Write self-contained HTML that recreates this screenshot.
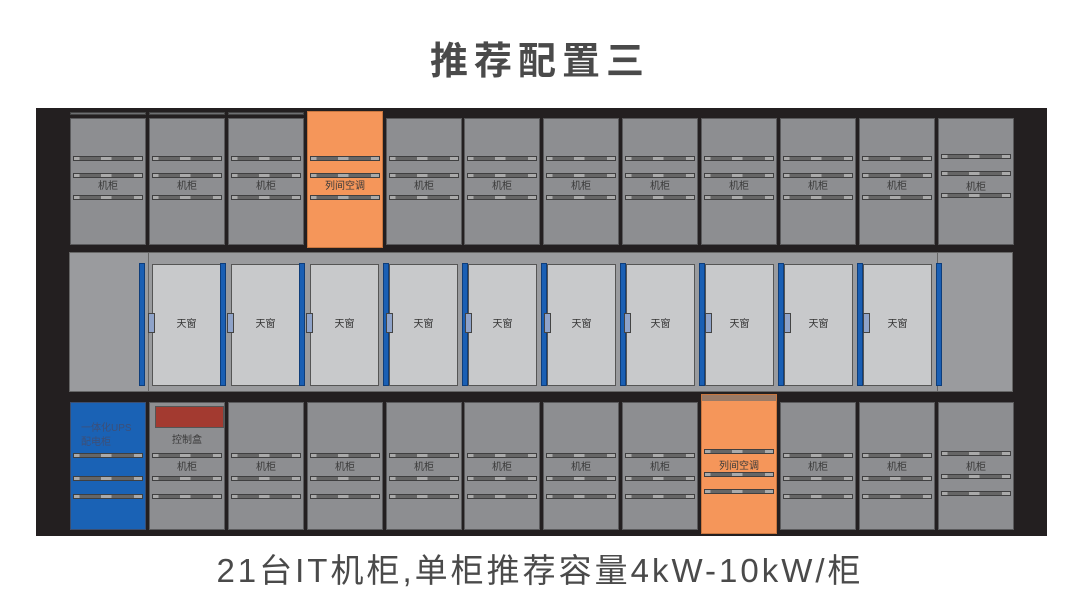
<!DOCTYPE html>
<html><head><meta charset="utf-8"><style>
body{margin:0;width:1080px;height:589px;background:#fff;position:relative;overflow:hidden;font-family:"Liberation Sans","Noto Sans CJK SC",sans-serif}
.a{position:absolute}
.t{position:absolute;left:0;width:1080px;text-align:center;color:#444}
.c{position:absolute;width:76px;background:#8d8e91;border:1px solid #5a5a5c;box-sizing:border-box}
.r{position:absolute;left:2px;right:2px;height:5px;border:1px solid #3f3f40;box-sizing:border-box;background:linear-gradient(90deg,#aaa 0 8%,#666 8% 40%,#aaa 40% 55%,#666 55% 88%,#aaa 88%)}
.l{position:absolute;left:0;right:0;text-align:center;font-size:10px;color:#3a3a3a}
.d{position:absolute;top:264px;width:69px;height:122px;background:#c8c9cb;border:1px solid #555;box-sizing:border-box}
.b{position:absolute;top:263px;width:6px;height:123px;background:#1a5fb4;border:1px solid #0e3d7a;box-sizing:border-box}
.h{position:absolute;top:313px;width:7px;height:20px;background:#8fa3c9;border:1px solid #444;box-sizing:border-box}
.s{position:absolute;height:3px;background:#6e6f72;border:1px solid #444;box-sizing:border-box}
</style></head><body>
<div class="t" style="top:30px;font-size:38px;font-weight:bold;letter-spacing:6px;color:#4a4a4a">推荐配置三</div>
<div class="t" style="top:544px;font-size:33px;letter-spacing:3px;color:#4a4a4a">21台IT机柜,单柜推荐容量4kW-10kW/柜</div>
<div class="a" style="left:36px;top:108px;width:1011px;height:428px;background:#231f20"></div>
<!-- middle row -->
<div class="a" style="left:69px;top:252px;width:944px;height:140px;background:#9a9b9e;border:1px solid #666;box-sizing:border-box"></div>
<div class="a" style="left:148px;top:252px;width:1px;height:140px;background:#666"></div>
<div class="a" style="left:937px;top:252px;width:1px;height:140px;background:#666"></div>
<div class="d" style="left:152px"></div><div class="d" style="left:231px"></div><div class="d" style="left:310px"></div><div class="d" style="left:389px"></div><div class="d" style="left:468px"></div><div class="d" style="left:547px"></div><div class="d" style="left:626px"></div><div class="d" style="left:705px"></div><div class="d" style="left:784px"></div><div class="d" style="left:863px"></div>
<div class="b" style="left:139px"></div><div class="b" style="left:220px"></div><div class="b" style="left:299px"></div><div class="b" style="left:383px"></div><div class="b" style="left:462px"></div><div class="b" style="left:541px"></div><div class="b" style="left:620px"></div><div class="b" style="left:699px"></div><div class="b" style="left:778px"></div><div class="b" style="left:857px"></div><div class="b" style="left:936px"></div>
<div class="h" style="left:148px"></div><div class="h" style="left:227px"></div><div class="h" style="left:306px"></div><div class="h" style="left:386px"></div><div class="h" style="left:465px"></div><div class="h" style="left:544px"></div><div class="h" style="left:624px"></div><div class="h" style="left:705px"></div><div class="h" style="left:784px"></div><div class="h" style="left:863px"></div>
<div class="a" style="top:315px;left:152px;width:860px;font-size:10px;color:#333;display:flex"><span style="width:69px;text-align:center">天窗</span><span style="width:10px"></span><span style="width:69px;text-align:center">天窗</span><span style="width:10px"></span><span style="width:69px;text-align:center">天窗</span><span style="width:10px"></span><span style="width:69px;text-align:center">天窗</span><span style="width:10px"></span><span style="width:69px;text-align:center">天窗</span><span style="width:10px"></span><span style="width:69px;text-align:center">天窗</span><span style="width:10px"></span><span style="width:69px;text-align:center">天窗</span><span style="width:10px"></span><span style="width:69px;text-align:center">天窗</span><span style="width:10px"></span><span style="width:69px;text-align:center">天窗</span><span style="width:10px"></span><span style="width:69px;text-align:center">天窗</span></div>
<!-- top strips -->
<div class="s" style="left:70px;top:112px;width:76px"></div><div class="s" style="left:149px;top:112px;width:76px"></div><div class="s" style="left:228px;top:112px;width:76px"></div>
<!-- top row -->
<div class="c" style="left:70px;top:118px;height:127px"><div class="r" style="top:37px"></div><div class="r" style="top:54px"></div><div class="l" style="top:58px">机柜</div><div class="r" style="top:76px"></div></div>
<div class="c" style="left:149px;top:118px;height:127px"><div class="r" style="top:37px"></div><div class="r" style="top:54px"></div><div class="l" style="top:58px">机柜</div><div class="r" style="top:76px"></div></div>
<div class="c" style="left:228px;top:118px;height:127px"><div class="r" style="top:37px"></div><div class="r" style="top:54px"></div><div class="l" style="top:58px">机柜</div><div class="r" style="top:76px"></div></div>
<div class="c" style="left:307px;top:111px;height:137px;background:#f5965a;border-color:#c8763f"><div class="r" style="top:44px"></div><div class="r" style="top:61px"></div><div class="l" style="top:65px">列间空调</div><div class="r" style="top:83px"></div></div>
<div class="c" style="left:386px;top:118px;height:127px"><div class="r" style="top:37px"></div><div class="r" style="top:54px"></div><div class="l" style="top:58px">机柜</div><div class="r" style="top:76px"></div></div>
<div class="c" style="left:464px;top:118px;height:127px"><div class="r" style="top:37px"></div><div class="r" style="top:54px"></div><div class="l" style="top:58px">机柜</div><div class="r" style="top:76px"></div></div>
<div class="c" style="left:543px;top:118px;height:127px"><div class="r" style="top:37px"></div><div class="r" style="top:54px"></div><div class="l" style="top:58px">机柜</div><div class="r" style="top:76px"></div></div>
<div class="c" style="left:622px;top:118px;height:127px"><div class="r" style="top:37px"></div><div class="r" style="top:54px"></div><div class="l" style="top:58px">机柜</div><div class="r" style="top:76px"></div></div>
<div class="c" style="left:701px;top:118px;height:127px"><div class="r" style="top:37px"></div><div class="r" style="top:54px"></div><div class="l" style="top:58px">机柜</div><div class="r" style="top:76px"></div></div>
<div class="c" style="left:780px;top:118px;height:127px"><div class="r" style="top:37px"></div><div class="r" style="top:54px"></div><div class="l" style="top:58px">机柜</div><div class="r" style="top:76px"></div></div>
<div class="c" style="left:859px;top:118px;height:127px"><div class="r" style="top:37px"></div><div class="r" style="top:54px"></div><div class="l" style="top:58px">机柜</div><div class="r" style="top:76px"></div></div>
<div class="c" style="left:938px;top:118px;height:127px"><div class="r" style="top:35px"></div><div class="r" style="top:52px"></div><div class="l" style="top:59px">机柜</div><div class="r" style="top:74px"></div></div>
<!-- bottom row -->
<div class="c" style="left:70px;top:402px;height:128px;background:#1a62b5;border-color:#3b4e70"><div class="a" style="left:10px;top:19px;font-size:10px;color:#3d4f78;line-height:14px">一体化UPS<br>配电柜</div><div class="r" style="top:50px"></div><div class="r" style="top:73px"></div><div class="r" style="top:91px"></div></div>
<div class="c" style="left:149px;top:402px;height:128px"><div class="a" style="left:5px;top:3px;width:69px;height:22px;background:#a33a30;border:1px solid #555;box-sizing:border-box"></div><div class="l" style="top:28px">控制盒</div><div class="r" style="top:50px"></div><div class="l" style="top:55px">机柜</div><div class="r" style="top:73px"></div><div class="r" style="top:91px"></div></div>
<div class="c" style="left:228px;top:402px;height:128px"><div class="r" style="top:50px"></div><div class="l" style="top:55px">机柜</div><div class="r" style="top:73px"></div><div class="r" style="top:91px"></div></div>
<div class="c" style="left:307px;top:402px;height:128px"><div class="r" style="top:50px"></div><div class="l" style="top:55px">机柜</div><div class="r" style="top:73px"></div><div class="r" style="top:91px"></div></div>
<div class="c" style="left:386px;top:402px;height:128px"><div class="r" style="top:50px"></div><div class="l" style="top:55px">机柜</div><div class="r" style="top:73px"></div><div class="r" style="top:91px"></div></div>
<div class="c" style="left:464px;top:402px;height:128px"><div class="r" style="top:50px"></div><div class="l" style="top:55px">机柜</div><div class="r" style="top:73px"></div><div class="r" style="top:91px"></div></div>
<div class="c" style="left:543px;top:402px;height:128px"><div class="r" style="top:50px"></div><div class="l" style="top:55px">机柜</div><div class="r" style="top:73px"></div><div class="r" style="top:91px"></div></div>
<div class="c" style="left:622px;top:402px;height:128px"><div class="r" style="top:50px"></div><div class="l" style="top:55px">机柜</div><div class="r" style="top:73px"></div><div class="r" style="top:91px"></div></div>
<div class="c" style="left:701px;top:394px;height:140px;background:#f5965a;border-color:#c8763f"><div class="a" style="left:0;right:0;top:0;height:6px;background:#9a7a66"></div><div class="r" style="top:54px"></div><div class="l" style="top:62px">列间空调</div><div class="r" style="top:77px"></div><div class="r" style="top:94px"></div></div>
<div class="c" style="left:780px;top:402px;height:128px"><div class="r" style="top:50px"></div><div class="l" style="top:55px">机柜</div><div class="r" style="top:73px"></div><div class="r" style="top:91px"></div></div>
<div class="c" style="left:859px;top:402px;height:128px"><div class="r" style="top:50px"></div><div class="l" style="top:55px">机柜</div><div class="r" style="top:73px"></div><div class="r" style="top:91px"></div></div>
<div class="c" style="left:938px;top:402px;height:128px"><div class="r" style="top:48px"></div><div class="l" style="top:55px">机柜</div><div class="r" style="top:71px"></div><div class="r" style="top:88px"></div></div>
</body></html>
